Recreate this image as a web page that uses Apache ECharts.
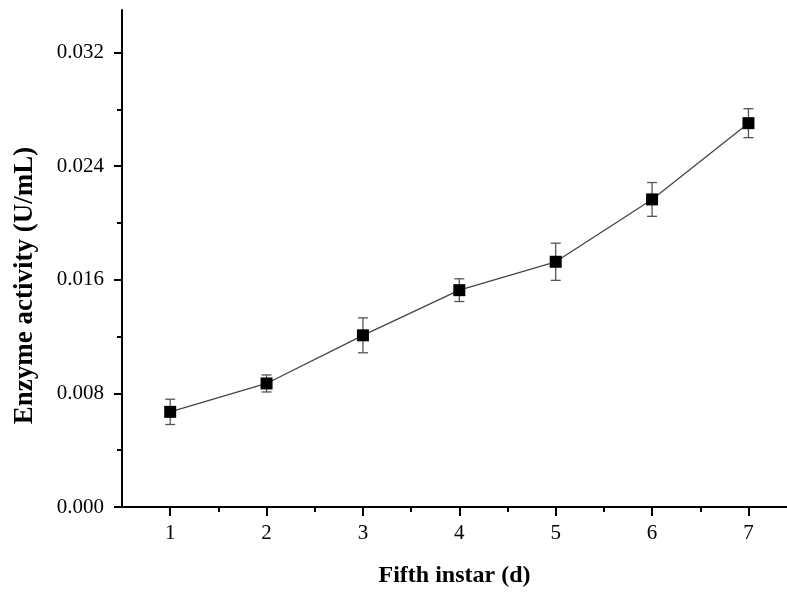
<!DOCTYPE html>
<html>
<head>
<meta charset="utf-8">
<script src="https://cdn.jsdelivr.net/npm/echarts@6/dist/echarts.min.js"></script>
<style>
    html, body { margin: 0; padding: 0; background: #fff; }
    #chart { width: 787px; height: 593px; }
</style>
</head>
<body>
<div id="chart"></div>
<script>
    // data
    var days = [1, 2, 3, 4, 5, 6, 7];
    var activity = [0.0067, 0.0087, 0.01209, 0.01527, 0.01727, 0.02166, 0.02703];
    var errors = [0.00089, 0.0006, 0.00123, 0.0008, 0.00131, 0.00119, 0.00102];

    var xMajor = [1, 2, 3, 4, 5, 6, 7];
    var xMinor = [1.5, 2.5, 3.5, 4.5, 5.5, 6.5];
    var yMajor = [0, 0.008, 0.016, 0.024, 0.032];
    var yMinor = [0.004, 0.012, 0.020, 0.028];

    var font = 'Liberation Serif';
    var chart = echarts.init(document.getElementById('chart'));

    let points = [];
    let bars = [];
    days.forEach((d, i) => {
        points.push([d, activity[i]]);
        bars.push([d, activity[i] - errors[i], activity[i] + errors[i]]);
    });

    function renderErrorBar(params, api) {
        let x = api.value(0);
        let lo = api.coord([x, api.value(1)]);
        let hi = api.coord([x, api.value(2)]);
        let half = 5;
        let style = { stroke: '#555', lineWidth: 1.3 };
        return {
            type: 'group',
            children: [
                { type: 'line', shape: { x1: lo[0], y1: lo[1], x2: hi[0], y2: hi[1] }, style: style },
                { type: 'line', shape: { x1: lo[0] - half, y1: lo[1], x2: lo[0] + half, y2: lo[1] }, style: style },
                { type: 'line', shape: { x1: hi[0] - half, y1: hi[1], x2: hi[0] + half, y2: hi[1] }, style: style }
            ]
        };
    }

    let option = {
        animation: false,
        backgroundColor: '#fff',
        grid: { left: 122, top: 10, right: 0, bottom: 83 },
        xAxis: [
            {
                type: 'value',
                min: 0.5,
                max: 7.4,
                name: 'Fifth instar (d)',
                nameLocation: 'middle',
                nameGap: 57,
                nameTextStyle: { fontFamily: font, fontSize: 24, fontWeight: 'bold', color: '#000' },
                axisLine: { lineStyle: { color: '#000', width: 2 } },
                axisTick: { show: true, length: 9, lineStyle: { color: '#000', width: 2 }, customValues: xMajor },
                axisLabel: { fontFamily: font, fontSize: 21, color: '#000', margin: 16, customValues: xMajor },
                splitLine: { show: false }
            },
            {
                type: 'value',
                min: 0.5,
                max: 7.4,
                position: 'bottom',
                axisLine: { show: false },
                axisTick: { show: true, length: 5, lineStyle: { color: '#000', width: 2 }, customValues: xMinor },
                axisLabel: { show: false },
                splitLine: { show: false }
            }
        ],
        yAxis: [
            {
                type: 'value',
                min: 0,
                max: 0.035,
                name: 'Enzyme activity (U/mL)',
                nameLocation: 'middle',
                nameGap: 83,
                nameTextStyle: {
                    fontFamily: font, fontSize: 27, fontWeight: 'bold', color: '#000',
                    padding: [0, 54, 0, 0]
                },
                axisLine: { show: true, lineStyle: { color: '#000', width: 2 } },
                axisTick: { show: true, length: 8, lineStyle: { color: '#000', width: 2 }, customValues: yMajor },
                axisLabel: {
                    fontFamily: font, fontSize: 21, color: '#000', margin: 18,
                    customValues: yMajor,
                    formatter: v => v.toFixed(3)
                },
                splitLine: { show: false }
            },
            {
                type: 'value',
                min: 0,
                max: 0.035,
                position: 'left',
                axisLine: { show: false },
                axisTick: { show: true, length: 5, lineStyle: { color: '#000', width: 2 }, customValues: yMinor },
                axisLabel: { show: false },
                splitLine: { show: false }
            }
        ],
        series: [
            {
                type: 'custom',
                renderItem: renderErrorBar,
                data: bars,
                z: 1
            },
            {
                type: 'line',
                data: points,
                symbol: 'rect',
                symbolSize: 12,
                itemStyle: { color: '#000' },
                lineStyle: { color: '#444', width: 1.3 },
                z: 2
            }
        ]
    };

    chart.setOption(option);
</script>
</body>
</html>
